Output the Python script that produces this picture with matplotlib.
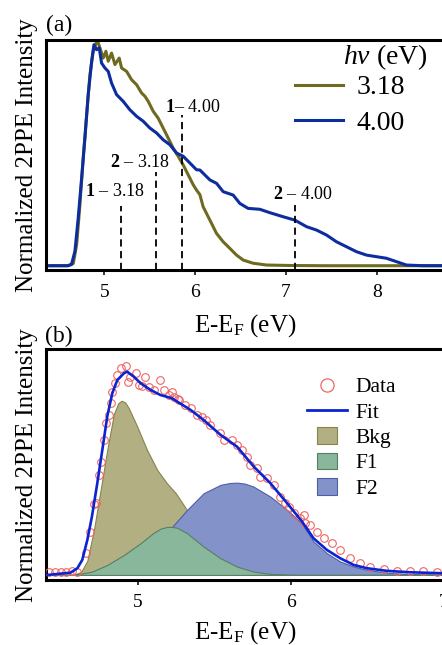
import matplotlib
matplotlib.use("Agg")
import matplotlib.pyplot as plt
import matplotlib.patches as mpatches
from matplotlib.lines import Line2D
from matplotlib.legend_handler import HandlerPatch

plt.rcParams['font.family'] = ['Liberation Serif', 'DejaVu Serif']
plt.rcParams['mathtext.fontset'] = 'custom'
plt.rcParams['mathtext.rm'] = 'Liberation Serif'
plt.rcParams['mathtext.it'] = 'Liberation Serif:italic'
plt.rcParams['mathtext.bf'] = 'Liberation Serif:bold'

# ---------------- Panel (a) data ----------------
x_318 = [4.40, 4.50, 4.60, 4.66, 4.697, 4.733, 4.769, 4.807, 4.843, 4.879, 4.923, 4.953,
         4.989, 5.019, 5.044, 5.081, 5.118, 5.165, 5.191, 5.246, 5.301, 5.356, 5.411,
         5.447, 5.484, 5.539, 5.593, 5.648, 5.703, 5.758, 5.813, 5.868, 5.923, 5.978,
         6.015, 6.052, 6.088, 6.162, 6.235, 6.308, 6.381, 6.455, 6.528, 6.637, 6.784,
         7.04, 7.40, 8.00, 8.72]
y_318 = [0.0, 0.0, 0.0, 0.01, 0.093, 0.27, 0.477, 0.669, 0.846, 0.95, 1.0, 0.965,
         0.92, 0.95, 0.906, 0.942, 0.891, 0.92, 0.876, 0.861, 0.824, 0.802, 0.765,
         0.751, 0.728, 0.684, 0.654, 0.61, 0.566, 0.521, 0.485, 0.447, 0.403, 0.359,
         0.335, 0.315, 0.261, 0.202, 0.143, 0.106, 0.077, 0.047, 0.025, 0.011, 0.003,
         0.001, 0.0, 0.0, 0.0]

x_400 = [4.40, 4.50, 4.60, 4.64, 4.678, 4.714, 4.752, 4.788, 4.824, 4.862, 4.887, 4.916,
         4.945, 4.971, 5.008, 5.044, 5.081, 5.136, 5.209, 5.282, 5.356, 5.429, 5.502,
         5.576, 5.648, 5.722, 5.796, 5.868, 5.942, 6.015, 6.052, 6.162, 6.235, 6.308,
         6.418, 6.491, 6.582, 6.711, 6.821, 6.967, 7.096, 7.224, 7.334, 7.444, 7.554,
         7.664, 7.774, 7.884, 7.993, 8.103, 8.213, 8.323, 8.505, 8.72]
y_400 = [0.0, 0.0, 0.0, 0.005, 0.064, 0.211, 0.389, 0.566, 0.758, 0.906, 0.979, 0.957,
         0.965, 0.898, 0.876, 0.861, 0.809, 0.758, 0.728, 0.691, 0.662, 0.64, 0.61,
         0.588, 0.558, 0.536, 0.499, 0.485, 0.455, 0.425, 0.424, 0.38, 0.365, 0.328,
         0.313, 0.276, 0.254, 0.25, 0.235, 0.217, 0.202, 0.173, 0.158, 0.136, 0.106,
         0.084, 0.062, 0.047, 0.04, 0.033, 0.018, 0.003, 0.0, 0.0]

photon_labels = ['3.18', '4.00']
mark_text = [r'$\mathbf{1}$ – 3.18', r'$\mathbf{2}$ – 3.18', r'$\mathbf{1}$– 4.00', r'$\mathbf{2}$ – 4.00']
mark_x = [5.19, 5.57, 5.85, 7.10]
mark_top = [0.265, 0.416, 0.668, 0.269]
mark_text_x = [5.114, 5.389, 5.975, 7.184]
mark_text_y = [0.328, 0.456, 0.702, 0.316]

# ---------------- Panel (b) data ----------------
fit_x = [4.41, 4.56, 4.605, 4.637, 4.67, 4.70, 4.735, 4.768, 4.80, 4.833, 4.866, 4.909,
         4.93, 4.974, 5.018, 5.083, 5.148, 5.22, 5.344, 5.43, 5.54, 5.648, 5.757, 5.866,
         5.975, 6.07, 6.148, 6.235, 6.322, 6.41, 6.496, 6.627, 6.779, 7.0]
fit_y = [0.0, 0.011, 0.033, 0.074, 0.172, 0.287, 0.451, 0.615, 0.779, 0.894, 0.959, 0.992,
         1.0, 0.975, 0.943, 0.91, 0.885, 0.87, 0.812, 0.762, 0.689, 0.631, 0.533, 0.451,
         0.353, 0.265, 0.18, 0.123, 0.082, 0.049, 0.033, 0.02, 0.013, 0.008]

bkg_x = [4.40, 4.58, 4.63, 4.67, 4.713, 4.757, 4.80, 4.843, 4.872, 4.894, 4.918, 4.941,
         4.996, 5.06, 5.127, 5.19, 5.25, 5.32, 5.43, 5.54, 5.65, 5.76, 5.87, 5.98, 6.09,
         6.30, 7.0]
bkg_y = [0.0, 0.0, 0.015, 0.07, 0.221, 0.418, 0.615, 0.79, 0.845, 0.857, 0.848, 0.82,
         0.73, 0.615, 0.516, 0.451, 0.40, 0.32, 0.24, 0.17, 0.11, 0.07, 0.04, 0.02, 0.01,
         0.003, 0.0]

f1_x = [4.40, 4.58, 4.70, 4.80, 4.909, 5.018, 5.104, 5.15, 5.19, 5.225, 5.257, 5.322,
        5.43, 5.54, 5.648, 5.757, 5.866, 6.0, 7.0]
f1_y = [0.0, 0.0, 0.016, 0.049, 0.098, 0.156, 0.208, 0.228, 0.236, 0.236, 0.232, 0.205,
        0.139, 0.082, 0.041, 0.016, 0.005, 0.0, 0.0]

f2_x = [4.40, 4.60, 4.80, 5.0, 5.1, 5.235, 5.322, 5.43, 5.54, 5.60, 5.648, 5.70, 5.757,
        5.866, 5.975, 6.07, 6.148, 6.235, 6.322, 6.41, 6.496, 6.627, 6.78, 7.0]
f2_y = [0.0, 0.0, 0.02, 0.08, 0.13, 0.246, 0.32, 0.402, 0.443, 0.452, 0.454, 0.449, 0.434,
        0.385, 0.32, 0.254, 0.164, 0.107, 0.066, 0.041, 0.025, 0.011, 0.004, 0.0]

data_x = [4.42, 4.46, 4.50, 4.53, 4.57, 4.60, 4.659, 4.687, 4.713, 4.724, 4.746, 4.761,
          4.778, 4.794, 4.811, 4.822, 4.833, 4.848, 4.866, 4.887, 4.92, 4.935, 4.952,
          4.985, 5.007, 5.029, 5.05, 5.072, 5.104, 5.144, 5.17, 5.202, 5.224, 5.235,
          5.261, 5.267, 5.311, 5.344, 5.387, 5.42, 5.442, 5.474, 5.539, 5.561, 5.616,
          5.648, 5.681, 5.714, 5.735, 5.779, 5.80, 5.844, 5.887, 5.931, 5.963, 5.985,
          6.018, 6.061, 6.085, 6.094, 6.127, 6.17, 6.213, 6.268, 6.322, 6.387, 6.453,
          6.518, 6.605, 6.692, 6.779, 6.866, 6.953]
data_y = [0.016, 0.014, 0.016, 0.015, 0.017, 0.016, 0.107, 0.213, 0.349, 0.353, 0.492, 0.557,
          0.664, 0.746, 0.787, 0.844, 0.902, 0.943, 0.984, 1.017, 1.028, 0.951, 0.975,
          0.992, 0.935, 0.93, 0.975, 0.926, 0.91, 0.957, 0.91, 0.885, 0.902, 0.877,
          0.864, 0.861, 0.836, 0.82, 0.787, 0.779, 0.762, 0.738, 0.697, 0.664, 0.664,
          0.639, 0.615, 0.582, 0.541, 0.525, 0.484, 0.476, 0.443, 0.385, 0.353, 0.336,
          0.303, 0.279, 0.295, 0.254, 0.246, 0.213, 0.18, 0.156, 0.123, 0.082, 0.057,
          0.038, 0.028, 0.021, 0.02, 0.021, 0.016]

comp_labels = ['Data', 'Fit', 'Bkg', 'F1', 'F2']

# ---------------- Styles ----------------
olive = '#6e6b20'
navy = '#0d2d9e'
fit_blue = '#0b24d2'
data_red = '#f06464'
bkg_face, bkg_edge = '#b2af83', '#86844c'
f1_face, f1_edge = '#89b79b', '#567f63'
f2_face, f2_edge = '#8393c9', '#4e5ea6'

W, H = 442, 645
fig = plt.figure(figsize=(W / 100, H / 100), dpi=100)

def style_axes(ax):
    for s in ax.spines.values():
        s.set_linewidth(2.2)
        s.set_color('black')
    ax.tick_params(axis='x', direction='out', length=3.8, width=1.1, labelsize=14, pad=6)
    ax.set_yticks([])

# ---------------- Panel (a) ----------------
ax1 = fig.add_axes([46 / W, 1 - 270 / H, (444 - 46) / W, 230 / H])
style_axes(ax1)
l318, = ax1.plot(x_318, y_318, color=olive, lw=2.2, label=photon_labels[0], zorder=2)
l400, = ax1.plot(x_400, y_400, color=navy, lw=2.2, label=photon_labels[1], zorder=3)
ax1.set_xlim(4.36, 8.736)
ax1.set_ylim(-0.019, 1.0)
ax1.set_xticks([5, 6, 7, 8])
ax1.vlines(mark_x, -0.019, mark_top, colors='black', linestyles=(0, (4, 2.5)), lw=1.3, zorder=4)
for t, tx, ty in zip(mark_text, mark_text_x, mark_text_y):
    ax1.text(tx, ty, t, fontsize=13, ha='center', va='center', zorder=5)
ax1.set_xlabel(r'E-E$_\mathrm{F}$ (eV)', fontsize=18, labelpad=8)
ax1.set_ylabel('Normalized 2PPE Intensity', fontsize=18, labelpad=6)
ax1.legend(handles=[l318, l400], loc='upper left', bbox_to_anchor=(295 / W, 1 - 75 / H),
           bbox_transform=fig.transFigure, frameon=False, fontsize=20,
           handlelength=1.73, handletextpad=0.47, labelspacing=0.35,
           borderpad=0, borderaxespad=0)
fig.text(428 / W, 1 - 57 / H, r'$h\nu$ (eV)', fontsize=20, ha='right', va='center')
fig.text(46 / W, 1 - 25 / H, '(a)', fontsize=17, ha='left', va='center')

# ---------------- Panel (b) ----------------
ax2 = fig.add_axes([46 / W, 1 - 580 / H, (444 - 46) / W, (580 - 349.3) / H])
style_axes(ax2)
ax2.fill_between(bkg_x, bkg_y, 0, facecolor=bkg_face, edgecolor=bkg_edge, lw=0.8, zorder=1)
ax2.fill_between(f2_x, f2_y, 0, facecolor=f2_face, edgecolor=f2_edge, lw=0.8, zorder=2)
ax2.fill_between(f1_x, f1_y, 0, facecolor=f1_face, edgecolor=f1_edge, lw=0.8, zorder=3)
ax2.plot(data_x, data_y, linestyle='none', marker='o', ms=5.5, mfc='none', mec=data_red,
         mew=0.8, zorder=4)
ax2.plot(fit_x, fit_y, color=fit_blue, lw=1.9, zorder=5)
ax2.set_xlim(4.40, 7.0)
ax2.set_ylim(-0.025, 1.11)
ax2.set_xticks([5, 6, 7])
ax2.set_xlabel(r'E-E$_\mathrm{F}$ (eV)', fontsize=18, labelpad=6)
ax2.set_ylabel('Normalized 2PPE Intensity', fontsize=18, labelpad=6)

h_data = Line2D([], [], linestyle='none', marker='o', ms=9.5, mfc='none', mec=data_red, mew=0.9)
h_fit = Line2D([], [], color=fit_blue, lw=2.0)
h_bkg = mpatches.Patch(facecolor=bkg_face, edgecolor=bkg_edge, lw=0.8)
h_f1 = mpatches.Patch(facecolor=f1_face, edgecolor=f1_edge, lw=0.8)
h_f2 = mpatches.Patch(facecolor=f2_face, edgecolor=f2_edge, lw=0.8)

def narrow_patch(legend, orig_handle, xdescent, ydescent, width, height, fontsize):
    return mpatches.Rectangle((-xdescent + width * 0.24, -ydescent - height * 0.05),
                              width * 0.52, height * 1.1)

ax2.legend(handles=[h_data, h_fit, h_bkg, h_f1, h_f2], labels=comp_labels,
           loc='upper left', bbox_to_anchor=(307 / W, 1 - 377 / H),
           bbox_transform=fig.transFigure, frameon=False, fontsize=15.5,
           handlelength=1.86, handletextpad=0.37, labelspacing=0.25,
           borderpad=0, borderaxespad=0,
           handler_map={mpatches.Patch: HandlerPatch(patch_func=narrow_patch)})
fig.text(45 / W, 1 - 336 / H, '(b)', fontsize=17, ha='left', va='center')

fig.savefig('out.png', dpi=100)
